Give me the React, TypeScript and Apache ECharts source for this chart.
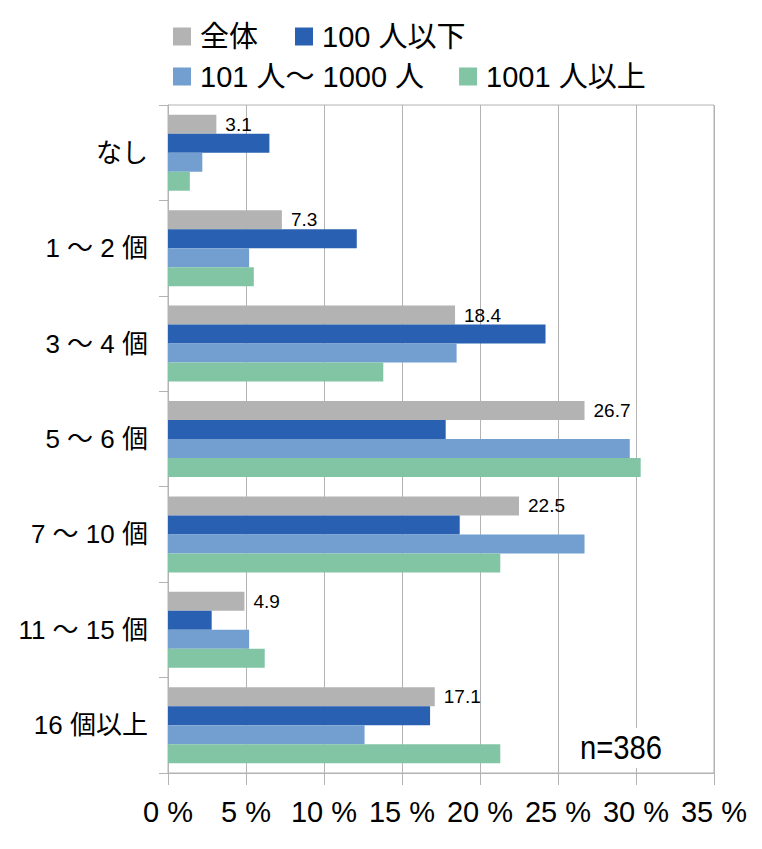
import React, { useEffect, useRef } from "react";
import * as echarts from "echarts";

const categories = ["なし", "1～2個", "3～4個", "5～6個", "7～10個", "11～15個", "16個以上"];
const categoryLabels = ["なし", "1 ～ 2 個", "3 ～ 4 個", "5 ～ 6 個", "7 ～ 10 個", "11 ～ 15 個", "16 個以上"];
const seriesNames = ["全体", "100 人以下", "101 人～ 1000 人", "1001 人以上"];
const allValues = [3.1, 7.3, 18.4, 26.7, 22.5, 4.9, 17.1];
const small = [6.5, 12.1, 24.2, 17.8, 18.7, 2.8, 16.8];
const medium = [2.2, 5.2, 18.5, 29.6, 26.7, 5.2, 12.6];
const large = [1.4, 5.5, 13.8, 30.3, 21.3, 6.2, 21.3];
const colors = ["#b3b3b3", "#2a60b2", "#729fcf", "#81c5a5"];
const xTicks = [0, 5, 10, 15, 20, 25, 30, 35];

const FONT = "'Liberation Sans', 'Noto Sans CJK JP', sans-serif";

export default function App() {
  const ref = useRef<HTMLDivElement>(null);
  useEffect(() => {
    document.body.style.margin = "0";
    const chart = echarts.init(ref.current!, null, { renderer: "svg" });
    const data = [allValues, small, medium, large];
    chart.setOption({
      animation: false,
      textStyle: { fontFamily: FONT },
      grid: {
        left: 168,
        right: 48,
        top: 105,
        bottom: 76,
        show: true,
        borderColor: "#b3b3b3",
        borderWidth: 1,
      },
      legend: [
        {
          data: [seriesNames[0], seriesNames[1]],
          left: 168,
          top: 17,
          itemWidth: 18,
          itemHeight: 18,
          itemGap: 37,
          icon: "rect",
          textStyle: { fontSize: 29, color: "#000", fontFamily: FONT, padding: [0, 0, 0, 4] },
        },
        {
          data: [seriesNames[2], seriesNames[3]],
          left: 168,
          top: 57,
          itemWidth: 18,
          itemHeight: 18,
          itemGap: 35,
          icon: "rect",
          textStyle: { fontSize: 29, color: "#000", fontFamily: FONT, padding: [0, 0, 0, 4] },
        },
      ],
      xAxis: {
        type: "value",
        min: 0,
        max: 35,
        interval: 5,
        axisLine: { show: true, lineStyle: { color: "#b3b3b3" } },
        axisTick: { show: true, length: 12, lineStyle: { color: "#b3b3b3" } },
        splitLine: { show: true, lineStyle: { color: "#b3b3b3" } },
        axisLabel: {
          fontSize: 29,
          color: "#000",
          margin: 24,
          fontFamily: FONT,
          formatter: (v: number) => (xTicks.includes(v) ? `${v} %` : ""),
        },
      },
      yAxis: {
        type: "category",
        inverse: true,
        data: categories,
        axisLine: { show: true, lineStyle: { color: "#b3b3b3" } },
        axisTick: { show: true, length: 9, lineStyle: { color: "#b3b3b3" } },
        axisLabel: {
          fontSize: 26,
          color: "#000",
          margin: 20,
          fontFamily: FONT,
          formatter: (v: string) => categoryLabels[categories.indexOf(v)],
        },
      },
      graphic: [
        {
          type: "rect",
          shape: { x: 574, y: 728, width: 94, height: 40 },
          style: { fill: "#fff" },
          z: 10,
        },
        {
          type: "text",
          x: 580,
          y: 747,
          scaleX: 0.86,
          z: 11,
          style: {
            text: "n=386",
            fontSize: 34,
            fill: "#000",
            fontFamily: FONT,
            verticalAlign: "middle",
          },
        },
      ],
      series: seriesNames.map((name, i) => ({
        name,
        type: "bar",
        data: data[i],
        barWidth: 19,
        barGap: "0%",
        itemStyle: { color: colors[i] },
        label:
          i === 0
            ? {
                show: true,
                position: "right",
                distance: 9,
                fontSize: 19,
                color: "#000",
                fontFamily: FONT,
                formatter: (p: any) => p.value.toFixed(1),
              }
            : { show: false },
      })),
    });
    return () => chart.dispose();
  }, []);
  return <div ref={ref} style={{ width: 762, height: 849 }} />;
}
